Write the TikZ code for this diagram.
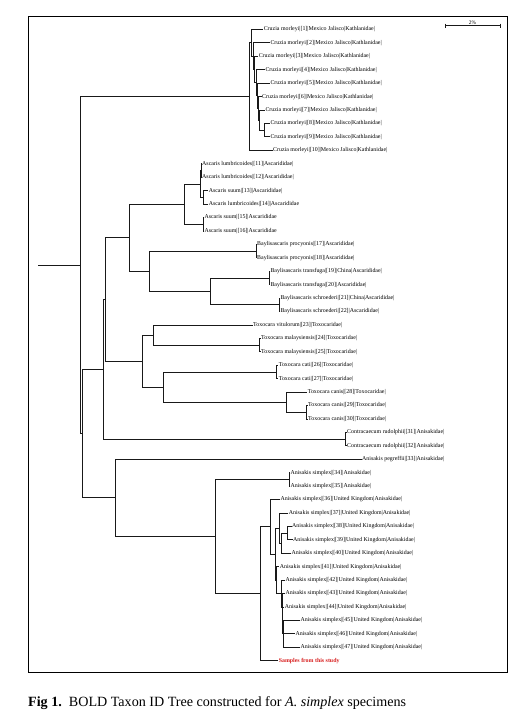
\documentclass[tikz,border=0pt]{standalone}
\usepackage{fontspec}
\setmainfont{Liberation Serif}
\usetikzlibrary{calc}
\definecolor{samplered}{RGB}{215,30,30}
\begin{document}
\begin{tikzpicture}[x=1pt,y=-1pt,
  br/.style={line width=0.9pt,black!90},
  leaf/.style={anchor=west,inner sep=0.3pt,font=\fontsize{5.9}{6.5}\selectfont},
  frame/.style={line width=1pt}]
\useasboundingbox (0,0) rectangle (527,725);
\draw[frame] (28,17) rectangle (507,672);
% scale bar
\coordinate (sb1) at (445,25.7);
\coordinate (sb2) at (500,25.7);
\draw[br] (sb1) -- (sb2);
\draw[br] ([yshift=2pt]sb1) -- ([yshift=-2pt]sb1);
\draw[br] ([yshift=2pt]sb2) -- ([yshift=-2pt]sb2);
\node[leaf,anchor=south,inner sep=0.8pt,font=\fontsize{5.4}{6}\selectfont] (sblab) at ($(sb1)!0.5!(sb2)$) {2\%};
% leaves
\node[leaf] (l1) at (263.3,29.5) {Cruzia morleyi|[1]|Mexico Jalisco|Kathlanidae|};
\node[leaf] (l2) at (270,42.93) {Cruzia morleyi|[2]|Mexico Jalisco|Kathlanidae|};
\node[leaf] (l3) at (258.3,56.36) {Cruzia morleyi|[3]|Mexico Jalisco|Kathlanidae|};
\node[leaf] (l4) at (265,69.79) {Cruzia morleyi|[4]|Mexico Jalisco|Kathlanidae|};
\node[leaf] (l5) at (270,83.22) {Cruzia morleyi|[5]|Mexico Jalisco|Kathlanidae|};
\node[leaf] (l6) at (261.7,96.65) {Cruzia morleyi|[6]|Mexico Jalisco|Kathlanidae|};
\node[leaf] (l7) at (265,110.08) {Cruzia morleyi|[7]|Mexico Jalisco|Kathlanidae|};
\node[leaf] (l8) at (270,123.51) {Cruzia morleyi|[8]|Mexico Jalisco|Kathlanidae|};
\node[leaf] (l9) at (270,136.94) {Cruzia morleyi|[9]|Mexico Jalisco|Kathlanidae|};
\node[leaf] (l10) at (272.7,150.37) {Cruzia morleyi|[10]|Mexico Jalisco|Kathlanidae|};
\node[leaf] (l11) at (201.7,163.8) {Ascaris lumbricoides|[11]|Ascarididae|};
\node[leaf] (l12) at (201.7,177.23) {Ascaris lumbricoides|[12]|Ascarididae|};
\node[leaf] (l13) at (208.3,190.66) {Ascaris suum|[13]|Ascarididae|};
\node[leaf] (l14) at (208.3,204.09) {Ascaris lumbricoides|[14]|Ascarididae};
\node[leaf] (l15) at (204,217.52) {Ascaris suum|[15]|Ascarididae};
\node[leaf] (l16) at (204,230.95) {Ascaris suum|[16]|Ascarididae};
\node[leaf] (l17) at (256.7,244.38) {Baylisascaris procyonis|[17]|Ascarididae|};
\node[leaf] (l18) at (256.7,257.81) {Baylisascaris procyonis|[18]|Ascarididae|};
\node[leaf] (l19) at (270,271.24) {Baylisascaris transfuga|[19]|China|Ascarididae|};
\node[leaf] (l20) at (270,284.67) {Baylisascaris transfuga|[20]|Ascarididae|};
\node[leaf] (l21) at (280,298.1) {Baylisascaris schroederi|[21]|China|Ascarididae|};
\node[leaf] (l22) at (280,311.53) {Baylisascaris schroederi|[22]|Ascarididae|};
\node[leaf] (l23) at (252.7,324.96) {Toxocara vitulorum|[23]|Toxocaridae|};
\node[leaf] (l24) at (260.7,338.39) {Toxocara malaysiensis|[24]|Toxocaridae|};
\node[leaf] (l25) at (260.7,351.82) {Toxocara malaysiensis|[25]|Toxocaridae|};
\node[leaf] (l26) at (278.3,365.25) {Toxocara cati|[26]|Toxocaridae|};
\node[leaf] (l27) at (278.3,378.68) {Toxocara cati|[27]|Toxocaridae|};
\node[leaf] (l28) at (307.3,392.11) {Toxocara canis|[28]|Toxocaridae|};
\node[leaf] (l29) at (307.7,405.54) {Toxocara canis|[29]|Toxocaridae|};
\node[leaf] (l30) at (307.7,418.97) {Toxocara canis|[30]|Toxocaridae|};
\node[leaf] (l31) at (346.7,432.4) {Contracaecum rudolphii|[31]|Anisakidae|};
\node[leaf] (l32) at (346.7,445.83) {Contracaecum rudolphii|[32]|Anisakidae|};
\node[leaf] (l33) at (361.7,459.26) {Anisakis pegreffii|[33]|Anisakidae|};
\node[leaf] (l34) at (290,472.69) {Anisakis simplex|[34]|Anisakidae|};
\node[leaf] (l35) at (290,486.12) {Anisakis simplex|[35]|Anisakidae|};
\node[leaf] (l36) at (280,499.55) {Anisakis simplex|[36]|United Kingdom|Anisakidae|};
\node[leaf] (l37) at (288.3,512.98) {Anisakis simplex|[37]|United Kingdom|Anisakidae|};
\node[leaf] (l38) at (291.7,526.41) {Anisakis simplex|[38]|United Kingdom|Anisakidae|};
\node[leaf] (l39) at (292.7,539.84) {Anisakis simplex|[39]|United Kingdom|Anisakidae|};
\node[leaf] (l40) at (291,553.27) {Anisakis simplex|[40]|United Kingdom|Anisakidae|};
\node[leaf] (l41) at (279.3,566.7) {Anisakis simplex|[41]|United Kingdom|Anisakidae|};
\node[leaf] (l42) at (285,580.13) {Anisakis simplex|[42]|United Kingdom|Anisakidae|};
\node[leaf] (l43) at (285,593.56) {Anisakis simplex|[43]|United Kingdom|Anisakidae|};
\node[leaf] (l44) at (284.3,606.99) {Anisakis simplex|[44]|United Kingdom|Anisakidae|};
\node[leaf] (l45) at (300,620.42) {Anisakis simplex|[45]|United Kingdom|Anisakidae|};
\node[leaf] (l46) at (295,633.85) {Anisakis simplex|[46]|United Kingdom|Anisakidae|};
\node[leaf] (l47) at (300,647.28) {Anisakis simplex|[47]|United Kingdom|Anisakidae|};
\node[leaf,text=samplered,font=\fontsize{5.9}{6.5}\selectfont\bfseries] (l48) at (278.3,660.71) {Samples from this study};
% internal nodes
\coordinate (c8) at (264.3,130.23);
\coordinate (c7) at (259.5,120.15);
\coordinate (c6) at (258.3,108.4);
\coordinate (c5) at (257,95.81);
\coordinate (c4) at (256,82.8);
\coordinate (c3) at (254.5,69.58);
\coordinate (c2) at (253.3,56.26);
\coordinate (c1) at (251.5,42.88);
\coordinate (c0) at (249.5,96.63);
\coordinate (asx) at (201,170.52);
\coordinate (asy) at (203,197.38);
\coordinate (as1) at (200.3,183.95);
\coordinate (as2) at (203.3,224.24);
\coordinate (asc) at (184.3,204.1);
\coordinate (b1) at (256,251.1);
\coordinate (b3) at (269.3,277.96);
\coordinate (b4) at (279.3,304.82);
\coordinate (b2) at (210,291.39);
\coordinate (bb) at (149.3,271.24);
\coordinate (ab) at (129.3,237.67);
\coordinate (t1a) at (259.3,345.1);
\coordinate (t1) at (153.3,335.03);
\coordinate (t2a) at (276.7,371.97);
\coordinate (t2c) at (306.7,412.26);
\coordinate (t2b) at (286,402.18);
\coordinate (t2) at (163.3,387.08);
\coordinate (tt) at (142.7,361.05);
\coordinate (a2) at (105.7,299.36);
\coordinate (cc) at (345.7,439.12);
\coordinate (aa) at (103.3,369.24);
\coordinate (an3) at (289,479.4);
\coordinate (ans) at (287.3,533.13);
\coordinate (an9) at (281.7,543.2);
\coordinate (an7) at (279.3,528.09);
\coordinate (ang) at (283.3,633.85);
\coordinate (h1) at (282.5,620.42);
\coordinate (h2) at (282,606.99);
\coordinate (an10) at (281.7,593.56);
\coordinate (an8) at (276,580.13);
\coordinate (an6) at (275,554.11);
\coordinate (an5) at (270.7,526.83);
\coordinate (an4) at (260.7,593.77);
\coordinate (an2) at (215,536.59);
\coordinate (an) at (115.7,497.92);
\coordinate (n82) at (82,433.58);
\coordinate (rt) at (80,265.1);
\coordinate (r0) at (38.3,265.1);
% branches
\draw[br] (r0) -- (rt);
\draw[br] (rt) |- (c0); \draw[br] (rt) |- (n82);
\draw[br] (c0) |- (c1); \draw[br] (c0) |- (l10.west);
\draw[br] (c1) |- (l1.west); \draw[br] (c1) |- (c2);
\draw[br] (c2) |- (l2.west); \draw[br] (c2) |- (c3);
\draw[br] (c3) |- (l3.west); \draw[br] (c3) |- (c4);
\draw[br] (c4) |- (l4.west); \draw[br] (c4) |- (c5);
\draw[br] (c5) |- (l5.west); \draw[br] (c5) |- (c6);
\draw[br] (c6) |- (l6.west); \draw[br] (c6) |- (c7);
\draw[br] (c7) |- (l7.west); \draw[br] (c7) |- (c8);
\draw[br] (c8) |- (l8.west); \draw[br] (c8) |- (l9.west);
\draw[br] (n82) |- (aa); \draw[br] (n82) |- (an);
\draw[br] (aa) |- (a2); \draw[br] (aa) |- (cc);
\draw[br] (cc) |- (l31.west); \draw[br] (cc) |- (l32.west);
\draw[br] (a2) |- (ab); \draw[br] (a2) |- (tt);
\draw[br] (ab) |- (asc); \draw[br] (ab) |- (bb);
\draw[br] (asc) |- (as1); \draw[br] (asc) |- (as2);
\draw[br] (as1) |- (asx); \draw[br] (as1) |- (asy);
\draw[br] (asx) |- (l11.west); \draw[br] (asx) |- (l12.west);
\draw[br] (asy) |- (l13.west); \draw[br] (asy) |- (l14.west);
\draw[br] (as2) |- (l15.west); \draw[br] (as2) |- (l16.west);
\draw[br] (bb) |- (b1); \draw[br] (bb) |- (b2);
\draw[br] (b1) |- (l17.west); \draw[br] (b1) |- (l18.west);
\draw[br] (b2) |- (b3); \draw[br] (b2) |- (b4);
\draw[br] (b3) |- (l19.west); \draw[br] (b3) |- (l20.west);
\draw[br] (b4) |- (l21.west); \draw[br] (b4) |- (l22.west);
\draw[br] (tt) |- (t1); \draw[br] (tt) |- (t2);
\draw[br] (t1) |- (l23.west); \draw[br] (t1) |- (t1a);
\draw[br] (t1a) |- (l24.west); \draw[br] (t1a) |- (l25.west);
\draw[br] (t2) |- (t2a); \draw[br] (t2) |- (t2b);
\draw[br] (t2a) |- (l26.west); \draw[br] (t2a) |- (l27.west);
\draw[br] (t2b) |- (l28.west); \draw[br] (t2b) |- (t2c);
\draw[br] (t2c) |- (l29.west); \draw[br] (t2c) |- (l30.west);
\draw[br] (an) |- (l33.west); \draw[br] (an) |- (an2);
\draw[br] (an2) |- (an3); \draw[br] (an2) |- (an4);
\draw[br] (an3) |- (l34.west); \draw[br] (an3) |- (l35.west);
\draw[br] (an4) |- (an5); \draw[br] (an4) |- (l48.west);
\draw[br] (an5) |- (l36.west); \draw[br] (an5) |- (an6);
\draw[br] (an6) |- (an7); \draw[br] (an6) |- (an8);
\draw[br] (an7) |- (l37.west); \draw[br] (an7) |- (an9);
\draw[br] (an9) |- (ans); \draw[br] (an9) |- (l40.west);
\draw[br] (ans) |- (l38.west); \draw[br] (ans) |- (l39.west);
\draw[br] (an8) |- (l41.west); \draw[br] (an8) |- (an10);
\draw[br] (an10) |- (l42.west); \draw[br] (an10) |- (h2);
\draw[br] (h2) |- (l43.west); \draw[br] (h2) |- (h1);
\draw[br] (h1) |- (l44.west); \draw[br] (h1) |- (ang);
\draw[br] (ang) |- (l45.west); \draw[br] (ang) |- (l46.west); \draw[br] (ang) |- (l47.west);
% caption
\node[anchor=west,inner sep=0pt,font=\fontsize{14.1}{16}\selectfont] (cap) at (28,703) {\textbf{Fig 1.}\ \ BOLD Taxon ID Tree constructed for \textit{A. simplex} specimens};
\end{tikzpicture}
\end{document}
